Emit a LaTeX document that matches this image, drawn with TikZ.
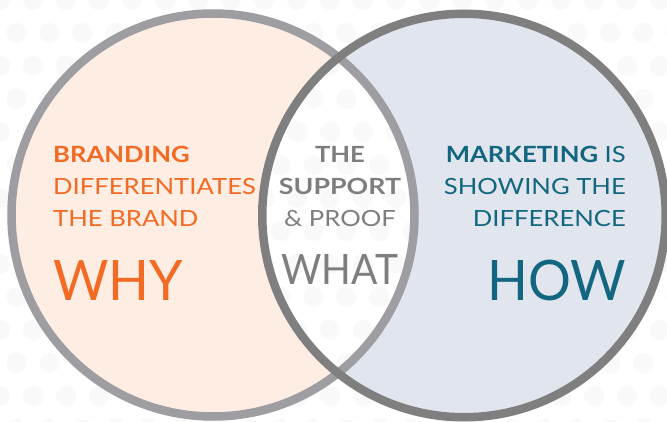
\documentclass[tikz,border=0pt]{standalone}
\usepackage{fontspec}
\setmainfont{Lato}
\newfontfamily\widefont[FakeStretch=1.15]{Lato}
\newfontfamily\widerfont[FakeStretch=1.2]{Lato}
\newfontfamily\bigfont[FakeStretch=0.96]{Lato}
\newfontfamily\midfont[FakeStretch=0.93]{Lato}
\definecolor{peach}{HTML}{FDEDE2}
\definecolor{bluegray}{HTML}{E1E6EE}
\definecolor{lgray}{HTML}{9E9DA2}
\definecolor{dgray}{HTML}{7F7F80}
\definecolor{brandorange}{HTML}{F26A24}
\definecolor{teal}{HTML}{13667F}
\definecolor{midgray}{HTML}{7E7E7E}
\definecolor{dotgray}{HTML}{F9F9F9}
\tikzset{
  small/.style={inner sep=0pt, font=\widefont\fontsize{22.3}{26}\selectfont},
  big/.style={inner sep=0pt, font=\bigfont\fontsize{55.8}{60}\selectfont},
  mid/.style={inner sep=0pt, font=\midfont\fontsize{41.9}{46}\selectfont},
  ring/.style={line width=8.5pt},
}
\begin{document}
\begin{tikzpicture}[x=1pt,y=1pt]
\useasboundingbox (0,0) rectangle (667,421);
\fill[white] (0,0) rectangle (667,421);
% background dot pattern
\foreach \r in {0,...,13}{
  \foreach \c in {0,...,21}{
    \pgfmathsetmacro{\xx}{\c*33 + mod(\r,2)*16.5}
    \pgfmathsetmacro{\yy}{421 - \r*33}
    \fill[dotgray] (\xx,\yy) circle (10);
  }
}
\coordinate (L) at (213,206);
\coordinate (R) at (464,205.5);
% fills (without intersection)
\begin{scope}
  \clip (L) circle (201.5);
  \fill[peach, even odd rule] (L) circle (201.5) (R) circle (201.75);
\end{scope}
\begin{scope}
  \clip (R) circle (201.75);
  \fill[bluegray, even odd rule] (L) circle (201.5) (R) circle (201.75);
\end{scope}
% rings
\draw[ring, lgray] (L) circle (201.5);
\draw[ring, dgray] (R) circle (201.75);
% left texts
\node[small, anchor=base west, text=brandorange] (b1) at (53,258) {\bfseries BRANDING};
\node[small, anchor=base west, text=brandorange] (b2) at (53,226) {DIFFERENTIATES};
\node[small, anchor=base west, text=brandorange] (b3) at (53,194) {THE BRAND};
\node[big, anchor=base west, text=brandorange] (why) at (53,121) {WHY};
% center texts
\node[small, anchor=base, text=midgray] (c1) at (340,258) {\bfseries THE};
\node[small, anchor=base, text=midgray] (c2) at (340,226) {\widerfont\bfseries SUPPORT};
\node[small, anchor=base, text=midgray] (c3) at (340,194) {\&\ PROOF};
\node[mid, anchor=base, text=midgray] (what) at (340,136) {WHAT};
% right texts
\node[small, anchor=base east, text=teal] (m1) at (626,258) {\textbf{MARKETING} IS};
\node[small, anchor=base east, text=teal] (m2) at (626,226) {SHOWING THE};
\node[small, anchor=base east, text=teal] (m3) at (626,194) {DIFFERENCE};
\node[big, anchor=base east, text=teal] (how) at (626,121) {HOW};
\end{tikzpicture}
\end{document}
